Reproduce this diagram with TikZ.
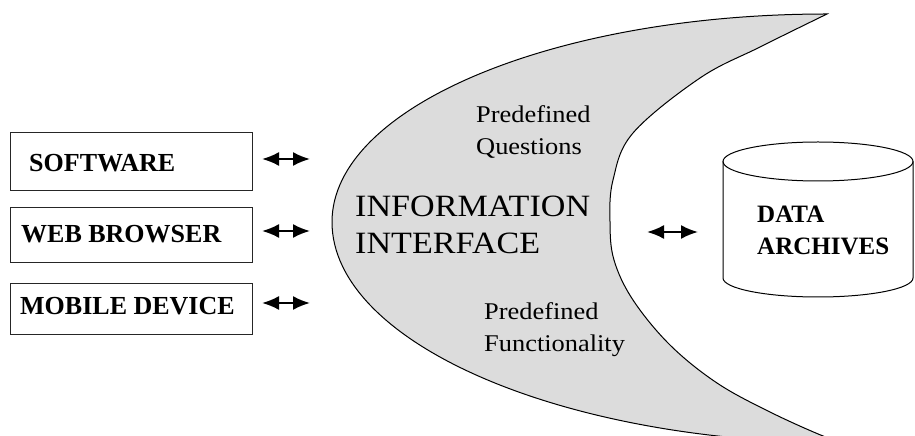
\documentclass[tikz,border=0pt]{standalone}
\usepackage{fontspec}
\setmainfont{Liberation Serif}
\newfontfamily\widefont{Liberation Serif}[FakeStretch=1.1]
\usetikzlibrary{arrows.meta}
\definecolor{crescentgray}{RGB}{220,220,220}
\tikzset{
  srcbox/.style={draw=black!85, line width=1.4pt},
  boxlabel/.style={anchor=base west, inner sep=0pt, font=\fontsize{26}{30}\selectfont\bfseries},
  dbllink/.style={line width=2pt, {Latex[length=17pt,width=14pt]}-{Latex[length=17pt,width=14pt]}},
  smalltext/.style={anchor=base west, inner sep=0pt, align=left, font=\widefont\fontsize{24}{32}\selectfont},
  bigtext/.style={anchor=base west, inner sep=0pt, align=left, font=\widefont\fontsize{31}{37}\selectfont},
  dbtext/.style={anchor=base west, inner sep=0pt, align=left, font=\fontsize{25}{32}\selectfont\bfseries},
  outline/.style={draw=black, line width=1pt}
}
\begin{document}
\begin{tikzpicture}[x=1pt,y=1pt]
\useasboundingbox (0,0) rectangle (915,436);
\begin{scope}
\clip (0,0) rectangle (915,436);
% crescent
\path[outline, fill=crescentgray]
  (827,422) .. controls (554,422) and (332,329) .. (332,214)
  .. controls (332,94) and (560,-7) .. (846,-7)
  -- plot[smooth, tension=0.6] coordinates {(846,-7) (823,0) (770,24) (717,53) (670,91) (633,136) (614,176) (610,214) (613,256) (633,303) (700,358) (760,389) (827,422)}
  -- cycle;
% cylinder
\draw[outline] (723,274.5) -- (723,158) arc[start angle=180, end angle=360, x radius=95, y radius=19] -- (913,274.5);
\draw[outline] (818,274.5) ellipse [x radius=95, y radius=19.5];
\end{scope}
% boxes
\node[srcbox, minimum width=242pt, minimum height=58pt, anchor=south west, inner sep=0pt] (sw) at (10,245) {};
\node[srcbox, minimum width=242pt, minimum height=55pt, anchor=south west, inner sep=0pt] (wb) at (10,173) {};
\node[srcbox, minimum width=242pt, minimum height=51pt, anchor=south west, inner sep=0pt] (md) at (10,101) {};
\node[boxlabel] (swt) at (29,264) {SOFTWARE};
\node[boxlabel] (wbt) at (21,193) {WEB BROWSER};
\node[boxlabel] (mdt) at (20,121) {MOBILE DEVICE};
% arrows
\coordinate (a1l) at (262,277); \coordinate (a1r) at (310,277);
\coordinate (a2l) at (262,205); \coordinate (a2r) at (310,205);
\coordinate (a3l) at (262,133); \coordinate (a3r) at (310,133);
\coordinate (a4l) at (647,204); \coordinate (a4r) at (698,204);
\draw[dbllink] (a1l) -- (a1r);
\draw[dbllink] (a2l) -- (a2r);
\draw[dbllink] (a3l) -- (a3r);
\draw[dbllink] (a4l) -- (a4r);
% texts
\node[bigtext] (info) at (355,182) {INFORMATION\\INTERFACE};
\node[smalltext] (pq) at (476,281) {Predefined\\Questions};
\node[smalltext] (pf) at (484,84) {Predefined\\Functionality};
\node[dbtext] (da) at (757,181) {DATA\\ARCHIVES};
\end{tikzpicture}
\end{document}
